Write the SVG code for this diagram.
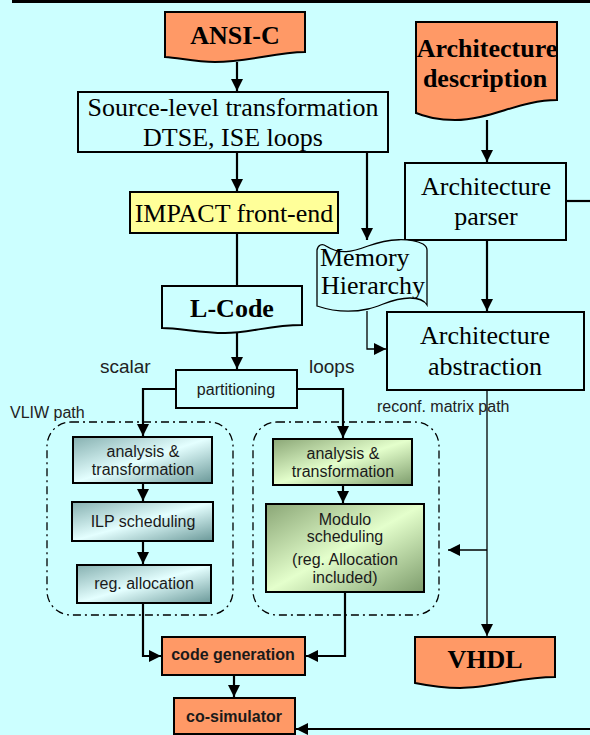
<svg xmlns="http://www.w3.org/2000/svg" width="590" height="735" viewBox="0 0 590 735">
<style>
.serif{font-family:"Liberation Serif","Times New Roman",serif;font-size:26px;fill:#000;text-anchor:middle}
.b{font-weight:bold}
.sans{font-family:"Liberation Sans",Arial,sans-serif;font-size:16px;fill:#1a1a1a;text-anchor:middle}
.lbl{font-family:"Liberation Sans",Arial,sans-serif;fill:#222}
.box{stroke:#000;stroke-width:2;fill:#ccffff}
.orange{fill:#ff9966;stroke:#000;stroke-width:2}
.thick{fill:none;stroke:#000;stroke-width:2.2}
.thin{fill:none;stroke:#000;stroke-width:1.3}
.region{fill:none;stroke:#000;stroke-width:1.3;stroke-dasharray:8,4,2,4}
</style>
<defs>
<marker id="ah" markerWidth="12" markerHeight="12" refX="10" refY="5" orient="auto" markerUnits="userSpaceOnUse" viewBox="0 0 10 10">
<path d="M0,0 L10,5 L0,10 Z" fill="#000"/>
</marker>
<linearGradient id="teal" x1="0" y1="0" x2="1" y2="1">
<stop offset="0" stop-color="#86b0b0"/>
<stop offset="0.5" stop-color="#e4ffff"/>
<stop offset="1" stop-color="#6a9898"/>
</linearGradient>
<linearGradient id="green" x1="0" y1="0" x2="1" y2="1">
<stop offset="0" stop-color="#8aa676"/>
<stop offset="0.5" stop-color="#e4ffcc"/>
<stop offset="1" stop-color="#7d9c6c"/>
</linearGradient>
</defs>
<rect width="590" height="735" fill="#ccffff"/>
<rect x="12" y="0" width="578" height="3" fill="#000"/>

<g id="connectors">
<line class="thick" x1="237" y1="62" x2="237" y2="91" marker-end="url(#ah)"/>
<line class="thick" x1="237" y1="152" x2="237" y2="191" marker-end="url(#ah)"/>
<line class="thick" x1="237" y1="233" x2="237" y2="286"/>
<line class="thick" x1="237" y1="333" x2="237" y2="369" marker-end="url(#ah)"/>
<polyline class="thick" points="176,389 143,389 143,436" marker-end="url(#ah)"/>
<polyline class="thick" points="297,389 343,389 343,438" marker-end="url(#ah)"/>
<line class="thick" x1="143" y1="483" x2="143" y2="501" marker-end="url(#ah)"/>
<line class="thick" x1="143" y1="541" x2="143" y2="564" marker-end="url(#ah)"/>
<line class="thick" x1="343" y1="485" x2="343" y2="503" marker-end="url(#ah)"/>
<polyline class="thick" points="143,603 143,656 161,656" marker-end="url(#ah)"/>
<polyline class="thick" points="345,592 345,656 306,656" marker-end="url(#ah)"/>
<line class="thick" x1="234" y1="675" x2="234" y2="697" marker-end="url(#ah)"/>
<line class="thick" x1="590" y1="729" x2="296" y2="729" marker-end="url(#ah)"/>
<line class="thick" x1="367" y1="152" x2="367" y2="240" marker-end="url(#ah)"/>
<polyline class="thin" points="367,311 367,349 386,349" marker-end="url(#ah)"/>
<line class="thick" x1="487" y1="120" x2="487" y2="162" marker-end="url(#ah)"/>
<line class="thick" x1="487" y1="240" x2="487" y2="311" marker-end="url(#ah)"/>
<line class="thick" x1="566" y1="201" x2="590" y2="201"/>
<line class="thin" x1="487" y1="390" x2="487" y2="636" marker-end="url(#ah)"/>
<line class="thin" x1="487" y1="550" x2="448" y2="550" marker-end="url(#ah)"/>
</g>

<g id="vliw-region">
<rect class="region" x="47" y="422" width="186" height="193" rx="24"/>
<text class="lbl" x="10" y="418" font-size="16">VLIW path</text>
</g>
<g id="reconf-region">
<rect class="region" x="253" y="422" width="186" height="193" rx="24"/>
<text class="lbl" x="377" y="412" font-size="16">reconf. matrix path</text>
</g>

<g id="ansi-c">
<path class="orange" d="M165,12 H305 V52 C275,52 250,62 215,62 C195,62 180,58 165,57 Z"/>
<text class="serif b" x="235" y="44">ANSI-C</text>
</g>
<g id="source-level">
<rect class="box" x="78" y="92" width="310" height="60"/>
<text class="serif" x="233" y="116">Source-level transformation</text>
<text class="serif" x="233" y="146">DTSE, ISE loops</text>
</g>
<g id="impact">
<rect x="130" y="192" width="208" height="41" fill="#ffff99" stroke="#000" stroke-width="2"/>
<text class="serif" x="234" y="222" font-size="24">IMPACT front-end</text>
</g>
<g id="l-code">
<path class="box" d="M162,286 H302 V325 C270,325 250,333 225,333 C200,333 180,328 162,328 Z"/>
<text class="serif b" x="232" y="317">L-Code</text>
</g>
<g id="partitioning">
<rect class="box" x="176" y="370" width="121" height="38"/>
<text class="sans" x="236" y="395">partitioning</text>
</g>
<text class="lbl" x="100" y="373" font-size="19">scalar</text>
<text class="lbl" x="309" y="373" font-size="19">loops</text>

<g id="vliw-analysis">
<rect x="73" y="437" width="139" height="46" fill="url(#teal)" stroke="#000" stroke-width="2"/>
<text class="sans" x="143" y="457">analysis &amp;</text>
<text class="sans" x="143" y="475">transformation</text>
</g>
<g id="ilp">
<rect x="72" y="502" width="141" height="39" fill="url(#teal)" stroke="#000" stroke-width="2"/>
<text class="sans" x="143" y="527">ILP scheduling</text>
</g>
<g id="reg-alloc">
<rect x="77" y="565" width="134" height="38" fill="url(#teal)" stroke="#000" stroke-width="2"/>
<text class="sans" x="144" y="589">reg. allocation</text>
</g>
<g id="reconf-analysis">
<rect x="273" y="439" width="139" height="46" fill="url(#green)" stroke="#000" stroke-width="2"/>
<text class="sans" x="343" y="459">analysis &amp;</text>
<text class="sans" x="343" y="477">transformation</text>
</g>
<g id="modulo">
<rect x="266" y="504" width="158" height="88" fill="url(#green)" stroke="#000" stroke-width="2"/>
<text class="sans" x="345" y="525">Modulo</text>
<text class="sans" x="345" y="542">scheduling</text>
<text class="sans" x="345" y="565">(reg. Allocation</text>
<text class="sans" x="345" y="583">included)</text>
</g>
<g id="code-gen">
<rect class="orange" x="162" y="637" width="143" height="38"/>
<text class="sans b" x="233" y="660" fill="#000">code generation</text>
</g>
<g id="co-sim">
<rect class="orange" x="174" y="698" width="121" height="36"/>
<text class="sans b" x="234" y="722" fill="#000">co-simulator</text>
</g>

<g id="arch-desc">
<path class="orange" d="M416,22 H557 V100 C520,100 490,120 455,120 C435,120 425,116 416,113 Z"/>
<text class="serif b" x="487" y="57">Architecture</text>
<text class="serif b" x="485" y="87">description</text>
</g>
<g id="arch-parser">
<rect class="box" x="405" y="163" width="161" height="77"/>
<text class="serif" x="486" y="195" fill="#2a3a6a">Architecture</text>
<text class="serif" x="486" y="225" fill="#2a3a6a">parser</text>
</g>
<g id="memory">
<path d="M317,250 C318,245 322,243 326,246 C340,255 352,252 368,246 C390,238 410,238 423,244 C426,246 427,248 427,250 V305 C424,300 418,298 410,298 C392,298 382,306 368,309 C350,313 332,311 317,306 Z" fill="#ccffff" stroke="#000" stroke-width="1.3"/>
<text class="serif" x="320" y="266" style="text-anchor:start" font-size="24">Memory</text>
<text class="serif" x="321" y="294" style="text-anchor:start" font-size="24">Hierarchy</text>
</g>
<g id="arch-abstraction">
<rect class="box" x="387" y="312" width="197" height="78"/>
<text class="serif" x="485" y="344">Architecture</text>
<text class="serif" x="485" y="375">abstraction</text>
</g>
<g id="vhdl">
<path class="orange" d="M415,637 H555 V677 C520,677 490,688 460,688 C440,688 425,685 415,683 Z"/>
<text class="serif b" x="485" y="668">VHDL</text>
</g>
</svg>
